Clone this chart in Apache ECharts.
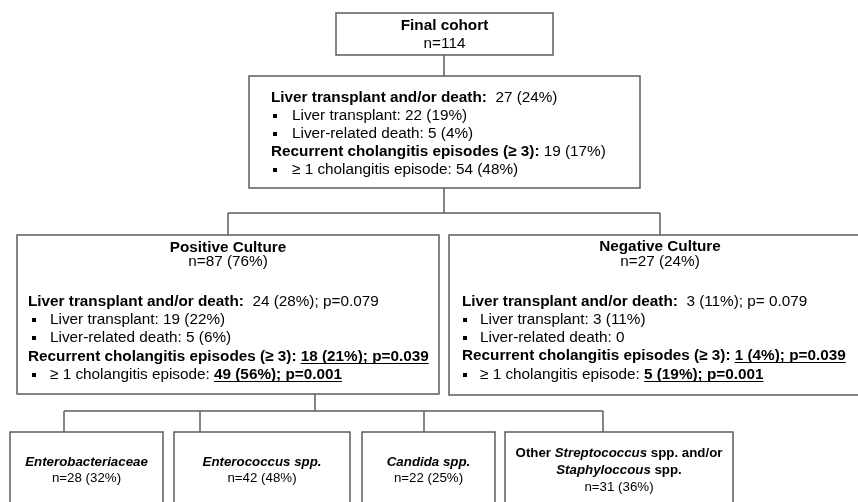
<!DOCTYPE html>
<html><head><meta charset="utf-8">
<script src="https://cdn.jsdelivr.net/npm/echarts@6/dist/echarts.min.js"></script>
<style>html,body{margin:0;padding:0;background:#fff}#c{width:858px;height:502px}</style>
</head><body><div id="c"></div>
<script>
// ---------- data ----------
const cohortLabel = 'Final cohort';
const cohortN = 114;
const overallN = [27, 22, 5, 19, 54];
const overallPct = [24, 19, 4, 17, 48];
const cultureGroups = ['Positive Culture', 'Negative Culture'];
const cultureN = [87, 27];
const culturePct = [76, 24];
const ltDeathN = [24, 3];
const ltDeathPct = [28, 11];
const transplantN = [19, 3];
const transplantPct = [22, 11];
const deathN = [5, 0];
const deathPct = [6, null];
const recurrentN = [18, 1];
const recurrentPct = [21, 4];
const episodeN = [49, 5];
const episodePct = [56, 19];
const pLtDeath = ['p=0.079', 'p= 0.079'];
const pRecurrent = 'p=0.039';
const pEpisode = 'p=0.001';
// organism labels: *...* marks italic part
const organismLabels = [['*Enterobacteriaceae*'], ['*Enterococcus spp.*'], ['*Candida spp.*'],
  ['Other *Streptococcus* spp. and/or', '*Staphyloccous* spp.']];
const organismN = [28, 42, 22, 31];
const organismPct = [32, 48, 25, 36];

// ---------- layout (axis units) ----------
const boxRects = [[336,13,553,55],[249,76,640,188],[17,235,439,394],[449,235,871,395],
  [10,432,163,540],[174,432,350,540],[362,432,495,540],[505,432,733,540]];
const connectors = [[[444,55],[444,76]],[[444,188],[444,213]],[[228,213],[660,213]],
  [[228,213],[228,235]],[[660,213],[660,235]],[[315,394],[315,411]],[[64,411],[603,411]],
  [[64,411],[64,432]],[[200,411],[200,432]],[[424,411],[424,432]],[[603,411],[603,432]]];
const indents = { 1: [271, 273, 292], 2: [28, 32, 50], 3: [462, 463, 480] }; // head, bullet, text
const FONT = '"Liberation Sans", Arial, Helvetica, sans-serif';
const MAIN_SIZE = 15.3, SMALL_SIZE = 13.3;

const pct = (n, p) => p == null ? String(n) : n + ' (' + p + '%)';
const B = t => ({t, b: 1}), N = t => ({t}), BU = t => ({t, b: 1, u: 1});
function italicSegs(str) {
  return str.split('*').map((s, k) => ({t: s, b: 1, i: k % 2 === 1})).filter(s => s.t.length);
}

const boxLines = [];
boxLines[0] = [
  {kind: 'center', y: 26, segs: [B(cohortLabel)]},
  {kind: 'center', y: 44, segs: [N('n=' + cohortN)]}
];
boxLines[1] = [
  {kind: 'head', y: 98, segs: [B('Liver transplant and/or death:'), N('  ' + pct(overallN[0], overallPct[0]))]},
  {kind: 'bullet', y: 116, segs: [N('Liver transplant: ' + pct(overallN[1], overallPct[1]))]},
  {kind: 'bullet', y: 134, segs: [N('Liver-related death: ' + pct(overallN[2], overallPct[2]))]},
  {kind: 'head', y: 152, segs: [B('Recurrent cholangitis episodes (≥ 3):'), N(' ' + pct(overallN[3], overallPct[3]))]},
  {kind: 'bullet', y: 170, segs: [N('≥ 1 cholangitis episode: ' + pct(overallN[4], overallPct[4]))]}
];
[0, 1].forEach(g => {
  const ys = g === 0 ? [248, 262, 302, 320, 338, 357, 375] : [247, 262, 302, 320, 338, 356, 375];
  boxLines[2 + g] = [
    {kind: 'center', y: ys[0], segs: [B(cultureGroups[g])]},
    {kind: 'center', y: ys[1], segs: [N('n=' + pct(cultureN[g], culturePct[g]))]},
    {kind: 'head', y: ys[2], segs: [B('Liver transplant and/or death:'), N('  ' + pct(ltDeathN[g], ltDeathPct[g]) + '; ' + pLtDeath[g])]},
    {kind: 'bullet', y: ys[3], segs: [N('Liver transplant: ' + pct(transplantN[g], transplantPct[g]))]},
    {kind: 'bullet', y: ys[4], segs: [N('Liver-related death: ' + pct(deathN[g], deathPct[g]))]},
    {kind: 'head', y: ys[5], segs: [B('Recurrent cholangitis episodes (≥ 3): '), BU(pct(recurrentN[g], recurrentPct[g]) + '; ' + pRecurrent)]},
    {kind: 'bullet', y: ys[6], segs: [N('≥ 1 cholangitis episode: '), BU(pct(episodeN[g], episodePct[g]) + '; ' + pEpisode)]}
  ];
});
organismLabels.forEach((lab, k) => {
  const ys = lab.length === 1 ? [462, 478] : [453, 470, 487];
  const lines = lab.map((l, j) => ({kind: 'center', y: ys[j], size: SMALL_SIZE, segs: italicSegs(l)}));
  lines.push({kind: 'center', y: ys[lab.length], size: SMALL_SIZE, segs: [N('n=' + pct(organismN[k], organismPct[k]))]});
  boxLines[4 + k] = lines;
});

// ---------- rendering ----------
const ctx = document.createElement('canvas').getContext('2d');
function fontStr(s, size) { return (s.i ? 'italic ' : 'normal ') + (s.b ? 'bold ' : 'normal ') + size + 'px ' + FONT; }
function measure(s, size) { ctx.font = fontStr(s, size); return ctx.measureText(s.t).width; }

function renderBox(params, api) {
  const i = api.value(0);
  const r = boxRects[i];
  const p0 = api.coord([r[0], r[1]]), p1 = api.coord([r[2], r[3]]);
  const children = [{type: 'rect', shape: {x: p0[0], y: p0[1], width: p1[0] - p0[0], height: p1[1] - p0[1]},
    style: {fill: '#fff', stroke: '#5c5c5c', lineWidth: 1.5}}];
  boxLines[i].forEach(line => {
    const size = line.size || MAIN_SIZE;
    const yy = api.coord([0, line.y])[1];
    const widths = line.segs.map(s => measure(s, size));
    const total = widths.reduce((a, b) => a + b, 0);
    let x;
    if (line.kind === 'center') x = api.coord([(r[0] + r[2]) / 2, 0])[0] - total / 2;
    else if (line.kind === 'head') x = api.coord([indents[i][0], 0])[0];
    else {
      const bx = api.coord([indents[i][1], 0])[0];
      children.push({type: 'rect', shape: {x: bx, y: yy - 2, width: 4, height: 4}, style: {fill: '#000'}});
      x = api.coord([indents[i][2], 0])[0];
    }
    line.segs.forEach((s, k) => {
      children.push({type: 'text', x: x, y: yy, style: {text: s.t, fill: '#000', fontSize: size,
        fontFamily: FONT, fontWeight: s.b ? 'bold' : 'normal', fontStyle: s.i ? 'italic' : 'normal',
        align: 'left', verticalAlign: 'middle'}});
      if (s.u) {
        const ux0 = s.t.startsWith(' ') ? x + measure({t: ' ', b: s.b}, size) : x;
        children.push({type: 'line', shape: {x1: ux0, y1: yy + 6.5, x2: x + widths[k], y2: yy + 6.5},
          style: {stroke: '#000', lineWidth: 1.2}});
      }
      x += widths[k];
    });
  });
  return {type: 'group', children};
}
function renderConnector(params, api) {
  const c = connectors[api.value(0)];
  const a = api.coord(c[0]), b = api.coord(c[1]);
  return {type: 'line', shape: {x1: a[0], y1: a[1], x2: b[0], y2: b[1]}, style: {stroke: '#5c5c5c', lineWidth: 1.5}};
}

const chart = echarts.init(document.getElementById('c'), null, {renderer: 'canvas'});
chart.setOption({
  animation: false,
  backgroundColor: '#fff',
  grid: {left: 0, right: 0, top: 0, bottom: 0},
  xAxis: {type: 'value', min: 0, max: 858, show: false},
  yAxis: {type: 'value', min: 0, max: 502, inverse: true, show: false},
  series: [
    {type: 'custom', renderItem: renderConnector, data: connectors.map((_, i) => [i, 0]), clip: false, silent: true},
    {type: 'custom', renderItem: renderBox, data: boxRects.map((_, i) => [i, 0]), clip: false, silent: true}
  ]
});
</script></body></html>
